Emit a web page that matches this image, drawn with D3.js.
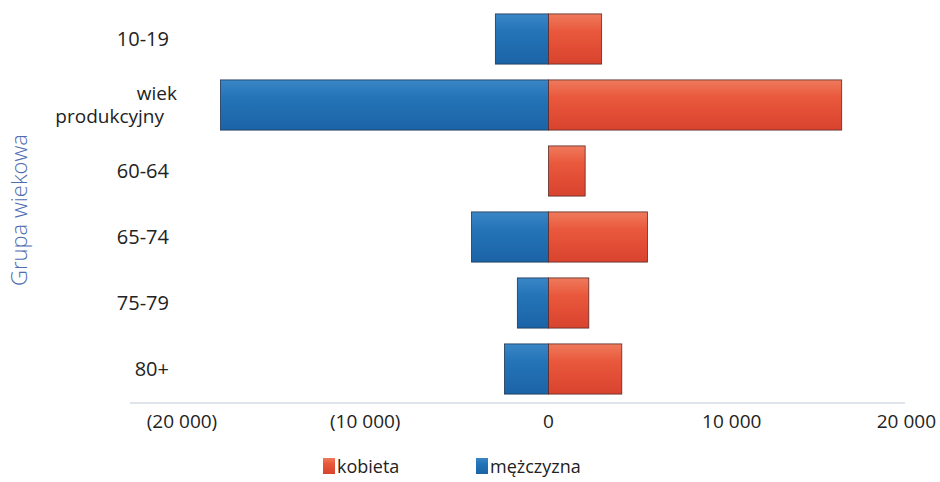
<!DOCTYPE html>
<html>
<head>
<meta charset="utf-8">
<script src="https://cdn.jsdelivr.net/npm/d3@7"></script>
<style>
  body { margin: 0; background: #fff; }
  text { font-family: "Open Sans", "Noto Sans", sans-serif; }
</style>
</head>
<body>
<div id="wykres"></div>
<script>
// dane
const grupy = ["10-19", "wiek produkcyjny", "60-64", "65-74", "75-79", "80+"];
const kobiety = [2900, 16000, 2000, 5400, 2200, 4000];
const mezczyzni = [2900, 17900, 0, 4200, 1700, 2400];
const ticki = [-20000, -10000, 0, 10000, 20000];
const etykietyTickow = ["(20 000)", "(10 000)", "0", "10 000", "20 000"];
const legenda = ["kobieta", "mężczyzna"];

const szer = 940, wys = 482;
const svg = d3.select("#wykres").append("svg")
  .attr("width", szer).attr("height", wys);

const x = d3.scaleLinear().domain([-20000, 20000]).range([182, 915]);
const y = d3.scaleBand().domain(grupy).range([6, 402]).paddingInner(0.24).paddingOuter(0.12);

// gradienty słupków
const defs = svg.append("defs");
function gradient(id, c1, c2, c3) {
  const g = defs.append("linearGradient").attr("id", id)
    .attr("x1", 0).attr("y1", 0).attr("x2", 0).attr("y2", 1);
  g.append("stop").attr("offset", "0%").attr("stop-color", c1);
  g.append("stop").attr("offset", "35%").attr("stop-color", c2);
  g.append("stop").attr("offset", "100%").attr("stop-color", c3);
}
gradient("czerwony", "#ef7a5c", "#e9583c", "#d8432e");
gradient("niebieski", "#3a86c6", "#2474b8", "#1b64a6");

// oś pozioma
svg.append("line")
  .attr("x1", 130).attr("x2", 905)
  .attr("y1", 403).attr("y2", 403)
  .attr("stroke", "#d4dbe3").attr("stroke-width", 1.5);

svg.selectAll(".tick-label").data(ticki).enter().append("text")
  .attr("x", (d, i) => i === ticki.length - 1 ? 936 : x(d))
  .attr("y", 428)
  .attr("text-anchor", (d, i) => i === ticki.length - 1 ? "end" : "middle")
  .attr("font-size", 19)
  .attr("fill", "#222")
  .text((d, i) => etykietyTickow[i]);

// słupki mężczyzn (w lewo)
svg.selectAll(".m").data(grupy).enter().append("rect")
  .filter((d, i) => mezczyzni[i] > 0)
  .attr("x", d => x(-mezczyzni[grupy.indexOf(d)]))
  .attr("y", d => y(d))
  .attr("width", d => x(0) - x(-mezczyzni[grupy.indexOf(d)]))
  .attr("height", y.bandwidth())
  .attr("fill", "url(#niebieski)")
  .attr("stroke", "#1d3553").attr("stroke-width", 0.8);

// słupki kobiet (w prawo)
svg.selectAll(".k").data(grupy).enter().append("rect")
  .attr("x", x(0))
  .attr("y", d => y(d))
  .attr("width", d => x(kobiety[grupy.indexOf(d)]) - x(0))
  .attr("height", y.bandwidth())
  .attr("fill", "url(#czerwony)")
  .attr("stroke", "#5a2a28").attr("stroke-width", 0.8);

// etykiety kategorii
grupy.forEach(g => {
  const cy = y(g) + y.bandwidth() / 2;
  const t = svg.append("text")
    .attr("x", 169)
    .attr("text-anchor", "end")
    .attr("font-size", 20)
    .attr("fill", "#222");
  if (g === "wiek produkcyjny") {
    t.attr("font-size", 19);
    t.append("tspan").attr("x", 177).attr("y", cy - 5).text("wiek");
    t.append("tspan").attr("x", 164).attr("y", cy + 18).text("produkcyjny");
  } else {
    t.attr("y", cy + 7).text(g);
  }
});

// tytuł osi Y
svg.append("text")
  .attr("transform", "translate(27,210) rotate(-90)")
  .attr("text-anchor", "middle")
  .attr("font-size", 22)
  .attr("font-weight", 300)
  .attr("fill", "#4f6cb0")
  .text("Grupa wiekowa");

// legenda
const leg = [
  { tekst: legenda[0], kolor: "url(#czerwony)", x: 323 },
  { tekst: legenda[1], kolor: "url(#niebieski)", x: 476 }
];
leg.forEach(l => {
  svg.append("rect")
    .attr("x", l.x).attr("y", 458)
    .attr("width", 12).attr("height", 16)
    .attr("fill", l.kolor);
  svg.append("text")
    .attr("x", l.x + 14).attr("y", 473)
    .attr("font-size", 18)
    .attr("fill", "#222")
    .text(l.tekst);
});
</script>
</body>
</html>
